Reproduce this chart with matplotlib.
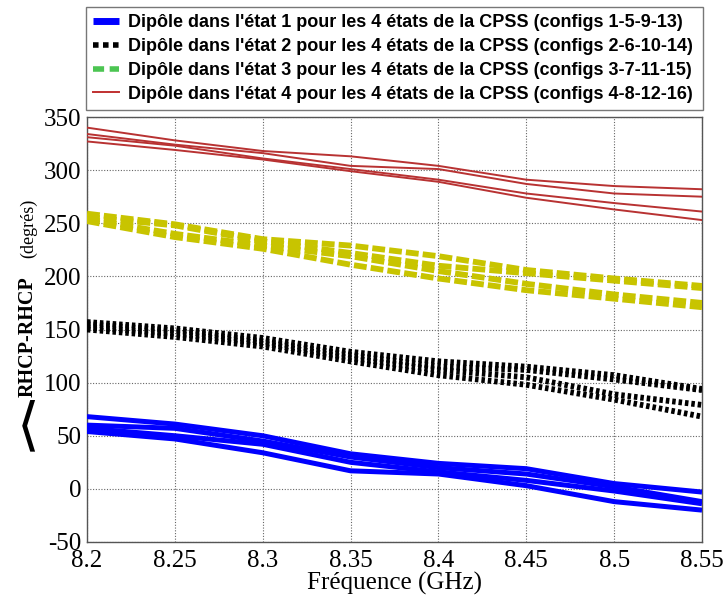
import matplotlib
matplotlib.use("Agg")
import matplotlib.pyplot as plt
from matplotlib.lines import Line2D

plt.rcParams["axes.unicode_minus"] = False

freq = [8.2, 8.25, 8.3, 8.35, 8.4, 8.45, 8.5, 8.55]

# Dipole state 1 (configs 1-5-9-13)
blue_1 = [68, 61, 50, 33, 24, 19, 5, -3]
blue_2 = [60, 57, 45, 30, 20, 14, 2, -12]
blue_3 = [57, 50, 42, 25, 16, 8, -2, -14]
blue_4 = [54, 47, 34, 17, 14, 3, -12, -20]

# Dipole state 2 (configs 2-6-10-14)
black_1 = [157, 151, 142, 129, 120, 115, 107, 94]
black_2 = [155, 149, 139, 126, 115, 112, 103, 93]
black_3 = [152, 146, 137, 123, 112, 105, 89, 79]
black_4 = [150, 143, 134, 120, 107, 98, 84, 68]

# Dipole state 3 (configs 3-7-11-15)
yellow_1 = [259, 249, 235, 229, 219, 206, 198, 191]
yellow_2 = [256, 248, 233, 222, 210, 203, 196, 189]
yellow_3 = [254, 240, 229, 219, 205, 193, 183, 175]
yellow_4 = [252, 237, 226, 211, 198, 187, 179, 171]

# Dipole state 4 (configs 4-8-12-16)
red_1 = [340, 328, 318, 313, 304, 291, 285, 282]
red_2 = [334, 324, 316, 304, 301, 287, 278, 275]
red_3 = [331, 323, 311, 301, 291, 278, 269, 261]
red_4 = [327, 319, 310, 299, 289, 274, 263, 253]

labels = [
    "Dipôle dans l'état 1 pour les 4 états de la CPSS (configs 1-5-9-13)",
    "Dipôle dans l'état 2 pour les 4 états de la CPSS (configs 2-6-10-14)",
    "Dipôle dans l'état 3 pour les 4 états de la CPSS (configs 3-7-11-15)",
    "Dipôle dans l'état 4 pour les 4 états de la CPSS (configs 4-8-12-16)",
]

xticks = [8.2, 8.25, 8.3, 8.35, 8.4, 8.45, 8.5, 8.55]
xticklabels = ["8.2", "8.25", "8.3", "8.35", "8.4", "8.45", "8.5", "8.55"]
yticks = [-50, 0, 50, 100, 150, 200, 250, 300, 350]

W, H = 723, 597
fig = plt.figure(figsize=(W / 100, H / 100), dpi=100)
ax = fig.add_axes([87 / W, 1 - 542 / H, (702 - 87) / W, (542 - 117) / H])

blue_c = "#0000FF"
black_c = "#000000"
yellow_c = "#C8C400"
red_c = "#B83232"

for ys in [blue_1, blue_2, blue_3, blue_4]:
    ax.plot(freq, ys, color=blue_c, lw=3.6, solid_capstyle="butt", zorder=3)
for ys in [black_1, black_2, black_3, black_4]:
    ax.plot(freq, ys, color=black_c, lw=4.2, linestyle=(0, (0.6, 0.5)), zorder=3)
for ys in [yellow_1, yellow_2, yellow_3, yellow_4]:
    ax.plot(freq, ys, color=yellow_c, lw=4.2, linestyle=(0, (2.2, 0.7)), zorder=3)
for ys in [red_1, red_2, red_3, red_4]:
    ax.plot(freq, ys, color=red_c, lw=1.4, zorder=3)

ax.set_xlim(8.2, 8.55)
ax.set_ylim(-50, 350)
ax.set_xticks(xticks)
ax.set_xticklabels(xticklabels)
ax.set_yticks(yticks)
ax.grid(True, color="#666666", linestyle=(0, (1, 1.5)), lw=0.8)
ax.tick_params(direction="in", length=0, labelsize=18)
ax.tick_params(axis="x", pad=6)
ax.tick_params(axis="y", pad=4)
for lab in ax.get_xticklabels() + ax.get_yticklabels():
    lab.set_family("Liberation Serif")
for sp in ax.spines.values():
    sp.set_color("#555555")
    sp.set_linewidth(1.0)

ax.set_xlabel("Fréquence (GHz)", family="Liberation Serif", fontsize=18, labelpad=0)

# y label built from pieces
fig.text(26 / W, 1 - 428 / H, r"$\langle$", fontsize=42, ha="center", va="center", color="black")
fig.text(33 / W, 1 - 397 / H, "RHCP-RHCP", family="Liberation Serif", fontweight="bold",
         fontsize=14.5, rotation=90, rotation_mode="anchor", ha="left", va="baseline")
fig.text(33 / W, 1 - 258 / H, "(degrés)", family="Liberation Serif",
         fontsize=13, rotation=90, rotation_mode="anchor", ha="left", va="baseline")

handles = [
    Line2D([], [], color=blue_c, lw=5, solid_capstyle="butt"),
    Line2D([], [], color=black_c, lw=4, linestyle=(0, (1, 0.8))),
    Line2D([], [], color="#4CC552", lw=4, linestyle=(0, (2, 1))),
    Line2D([], [], color="#C03030", lw=1.4),
]
leg = ax.legend(handles, labels, loc="upper left",
                bbox_to_anchor=(86 / W, 1 - 111 / H, (703 - 86) / W, 104 / H),
                bbox_transform=fig.transFigure, mode="expand",
                prop={"family": "Liberation Sans", "weight": "bold", "size": 13.0},
                handlelength=1.45, handletextpad=0.45, labelspacing=0.38,
                borderpad=0.4, borderaxespad=0, fancybox=False, framealpha=1)
leg.get_frame().set_edgecolor("#777777")
leg.get_frame().set_linewidth(1.0)

fig.savefig("out.png", dpi=100)
